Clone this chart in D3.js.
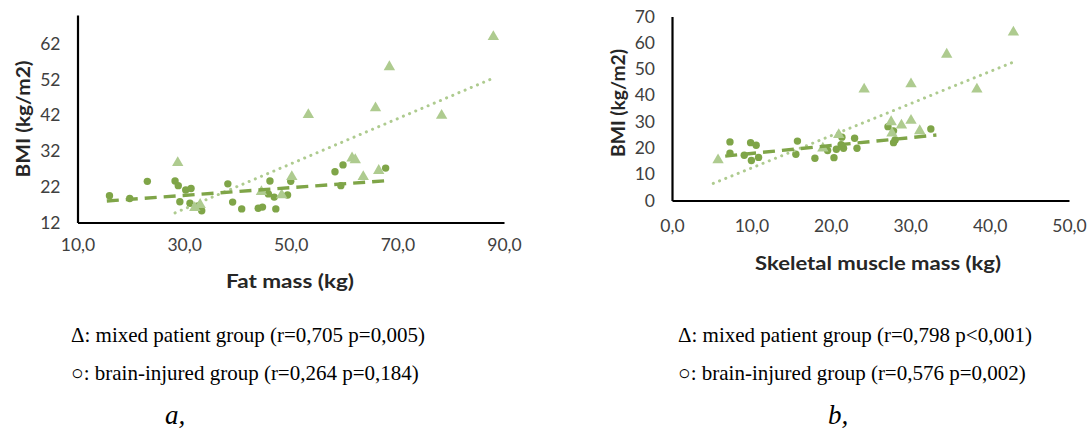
<!DOCTYPE html>
<html>
<head>
<meta charset="utf-8">
<script src="https://cdn.jsdelivr.net/npm/d3@7"></script>
<style>
  body { margin: 0; background: #fff; }
  .tick text { font-family: Lato, "Open Sans", sans-serif; fill: #404040; }
</style>
</head>
<body>
<div class="fig"></div>
<script>
// panel a: fat mass (kg) vs BMI
var fatMixed = [[28.8,28.7],[32.0,16.1],[33.0,17.0],[44.5,20.6],[48.3,19.7],[50.2,24.8],
  [53.3,42.1],[68.5,55.5],[65.9,44.0],[78.3,41.9],[88.0,63.9],[61.5,30.0],[62.1,29.5],
  [63.6,24.8],[66.5,26.5]];
var fatBrain = [[16.0,19.5],[19.8,18.7],[23.1,23.5],[28.3,23.6],[28.9,22.3],[30.3,21.1],
  [31.3,21.5],[29.2,17.8],[31.1,17.4],[32.6,16.6],[33.3,15.3],[38.2,22.8],[39.1,17.7],
  [40.8,15.8],[43.9,16.0],[44.7,16.3],[46.1,23.6],[46.9,19.1],[47.2,15.8],[45.8,20.0],
  [49.4,19.7],[50.0,23.5],[58.3,26.2],[59.8,28.1],[59.4,22.3],[67.8,27.2]];
var fatMixedTrend = [[28.3,14.7],[87.6,52.1]];
var fatBrainTrend = [[15.5,18.0],[68.0,23.7]];
var fatXTicks = [10, 30, 50, 70, 90];
var fatYTicks = [12, 22, 32, 42, 52, 62];

// panel b: skeletal muscle mass (kg) vs BMI
var smmMixed = [[5.8,15.4],[24.2,42.3],[30.1,44.3],[34.6,55.6],[43.0,64.0],[38.4,42.3],
  [27.6,29.9],[28.9,28.6],[30.1,30.4],[31.2,26.5],[27.7,25.6],[21.0,25.0],[19.0,19.9]];
var smmBrain = [[7.3,22.3],[7.3,18.0],[9.1,17.2],[9.9,22.0],[10.6,21.0],[10.0,15.2],
  [10.9,16.4],[15.8,22.6],[15.6,17.6],[18.0,16.1],[19.6,19.0],[20.4,16.3],[20.7,19.5],
  [21.4,24.1],[21.6,19.9],[21.3,21.2],[23.0,23.7],[23.3,19.9],[27.2,28.1],[27.9,26.5],
  [28.1,23.0],[27.9,22.0],[32.6,27.2]];
var smmMixedTrend = [[5.2,6.5],[43.1,52.8]];
var smmBrainTrend = [[6.7,16.9],[33.3,24.9]];
var smmXTicks = [0, 10, 20, 30, 40, 50];
var smmYTicks = [0, 10, 20, 30, 40, 50, 60, 70];

var captionA = ["\u0394: mixed patient group (r=0,705 p=0,005)", "\u25CB: brain-injured group (r=0,264 p=0,184)"];
var captionB = ["\u0394: mixed patient group (r=0,798 p<0,001)", "\u25CB: brain-injured group (r=0,576 p=0,002)"];

var darkGreen = "#7fa548";
var lightGreen = "#aecb8f";

var svg = d3.select(".fig").append("svg")
  .attr("width", 1089)
  .attr("height", 430)
  .style("background", "#fff");

var fmt = d3.format(".1f");
var comma = v => fmt(v).replace(".", ",");

function panel(opt) {
  var x = d3.scaleLinear().domain(opt.xDomain).range([opt.left, opt.right]);
  var y = d3.scaleLinear().domain(opt.yDomain).range([opt.bottom, opt.top]);
  var g = svg.append("g");

  // axes
  g.append("g")
    .attr("transform", "translate(0," + opt.bottom + ")")
    .call(d3.axisBottom(x).tickValues(opt.xTicks).tickSize(0).tickPadding(opt.xPad).tickFormat(comma))
    .call(a => a.select(".domain").attr("stroke", "#000").attr("stroke-width", 2.2))
    .call(a => a.selectAll("text").style("font-size", "17.5px"));

  g.append("g")
    .attr("transform", "translate(" + opt.left + ",0)")
    .call(d3.axisLeft(y).tickValues(opt.yTicks).tickSize(0).tickPadding(17).tickFormat(d3.format("d")))
    .call(a => a.select(".domain").attr("stroke", "#000").attr("stroke-width", 2.2))
    .call(a => a.selectAll("text").style("font-size", "17.5px"));

  var line = d3.line().x(d => x(d[0])).y(d => y(d[1]));

  // brain-injured points
  g.append("g").selectAll("circle")
    .data(opt.brain)
    .enter()
    .append("circle")
    .attr("cx", d => x(d[0]))
    .attr("cy", d => y(d[1]))
    .attr("r", 3.7)
    .attr("fill", darkGreen);

  // mixed group points
  g.append("g").selectAll("path")
    .data(opt.mixed)
    .enter()
    .append("path")
    .attr("d", d3.symbol().type(d3.symbolTriangle).size(56))
    .attr("transform", d => "translate(" + x(d[0]) + "," + y(d[1]) + ")")
    .attr("fill", lightGreen);

  // trend lines
  g.append("path")
    .datum(opt.mixedTrend)
    .attr("d", line)
    .attr("fill", "none")
    .attr("stroke", lightGreen)
    .attr("stroke-width", 3)
    .attr("stroke-linecap", "round")
    .attr("stroke-dasharray", "0.1,6.6");

  g.append("path")
    .datum(opt.brainTrend)
    .attr("d", line)
    .attr("fill", "none")
    .attr("stroke", darkGreen)
    .attr("stroke-width", 3.4)
    .attr("stroke-dasharray", "12,7");

  // axis titles
  g.append("text")
    .attr("x", opt.xTitleX)
    .attr("y", opt.xTitleY)
    .attr("text-anchor", "middle")
    .attr("textLength", opt.xTitleLen)
    .attr("lengthAdjust", "spacingAndGlyphs")
    .style("font-family", "Lato, sans-serif")
    .style("font-weight", "bold")
    .style("font-size", "18.5px")
    .style("fill", "#262626")
    .text(opt.xTitle);

  g.append("text")
    .attr("transform", "translate(" + opt.yTitleX + "," + opt.yTitleY + ") rotate(-90)")
    .attr("text-anchor", "middle")
    .attr("textLength", opt.yTitleLen)
    .attr("lengthAdjust", "spacingAndGlyphs")
    .style("font-family", "Lato, sans-serif")
    .style("font-weight", "bold")
    .style("font-size", "19px")
    .style("fill", "#262626")
    .text("BMI (kg/m2)");

  // caption
  g.append("g").selectAll("text")
    .data(opt.caption)
    .enter()
    .append("text")
    .attr("x", opt.capX)
    .attr("y", (d, i) => 342 + 38 * i)
    .style("font-family", "'Liberation Serif', 'Times New Roman', serif")
    .style("font-size", "21px")
    .style("fill", "#000")
    .text(d => d);

  g.append("text")
    .attr("x", opt.letterX)
    .attr("y", 424)
    .style("font-family", "'Liberation Serif', 'Times New Roman', serif")
    .style("font-style", "italic")
    .style("font-size", "27px")
    .text(opt.letter);
}

panel({
  xDomain: [10, 90], yDomain: [12, 70],
  left: 77.5, right: 504, top: 15, bottom: 222.5,
  xTicks: fatXTicks, yTicks: fatYTicks, xPad: 16,
  mixed: fatMixed, brain: fatBrain,
  mixedTrend: fatMixedTrend, brainTrend: fatBrainTrend,
  xTitle: "Fat mass (kg)", xTitleX: 290, xTitleY: 288, xTitleLen: 128,
  yTitleX: 30, yTitleY: 119, yTitleLen: 117,
  caption: captionA, capX: 71, letter: "a,", letterX: 165
});

panel({
  xDomain: [0, 50], yDomain: [0, 70],
  left: 672, right: 1069, top: 16.5, bottom: 200.5,
  xTicks: smmXTicks, yTicks: smmYTicks, xPad: 19,
  mixed: smmMixed, brain: smmBrain,
  mixedTrend: smmMixedTrend, brainTrend: smmBrainTrend,
  xTitle: "Skeletal muscle mass (kg)", xTitleX: 878, xTitleY: 270, xTitleLen: 246,
  yTitleX: 625, yTitleY: 103, yTitleLen: 108,
  caption: captionB, capX: 678, letter: "b,", letterX: 828
});
</script>
</body>
</html>
